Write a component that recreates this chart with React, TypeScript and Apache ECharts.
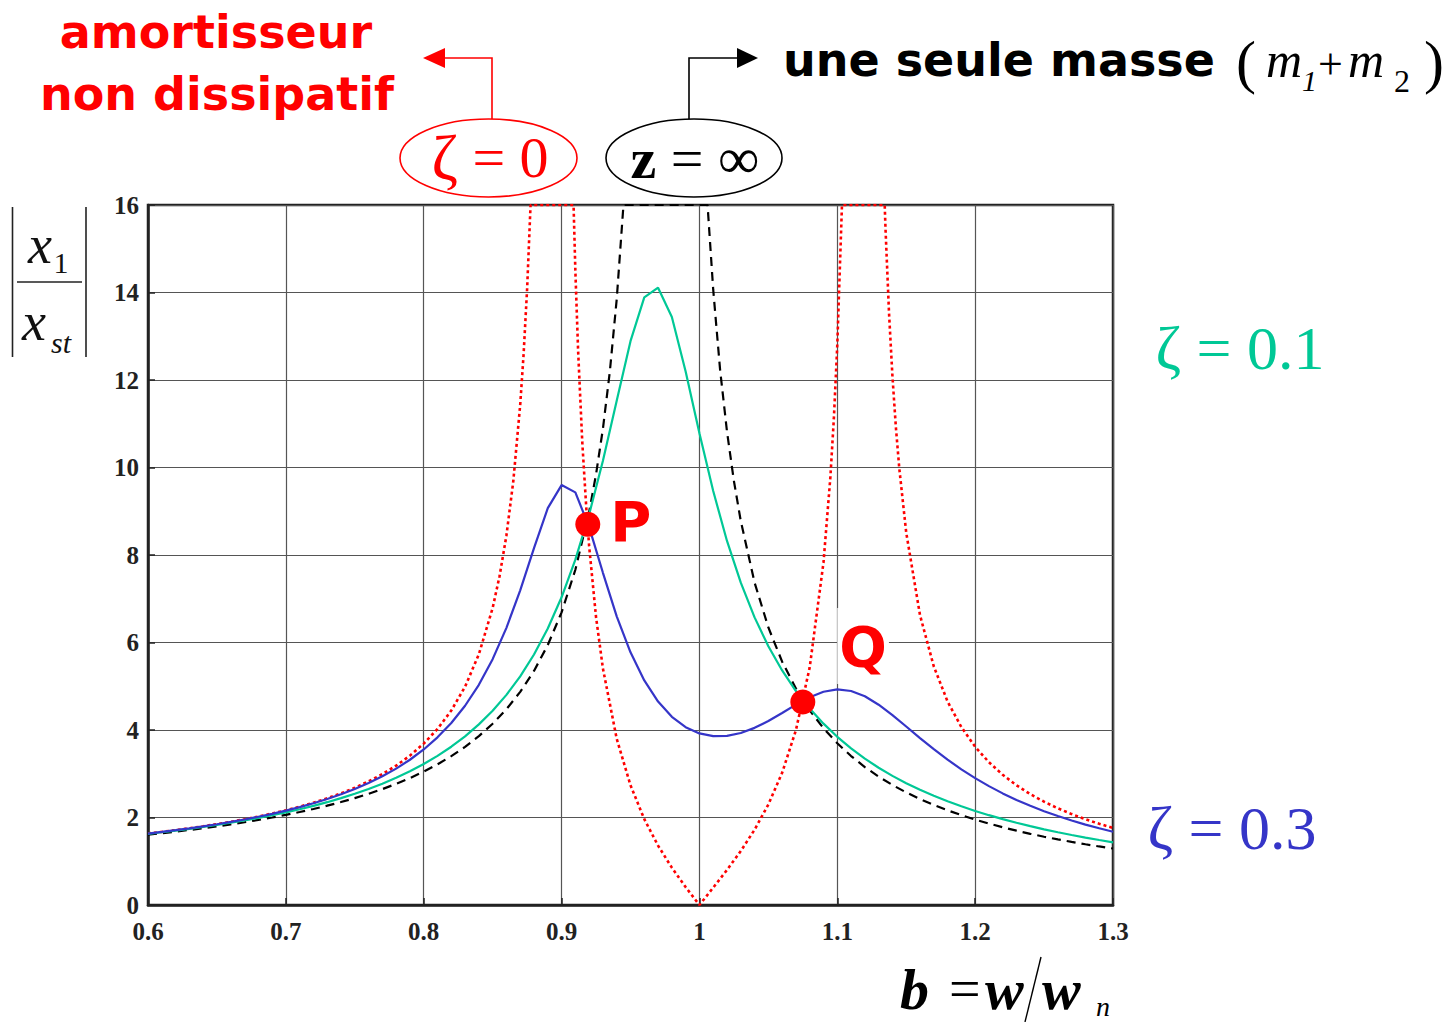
import React, { useEffect, useRef } from "react";
import * as echarts from "echarts";

// ---- data ----
// frequency ratio grid used by the damped curves
const betaGrid = [
  0.6, 0.61, 0.62, 0.63, 0.64, 0.65, 0.66, 0.67, 0.68, 0.69,
  0.7, 0.71, 0.72, 0.73, 0.74, 0.75, 0.76, 0.77, 0.78, 0.79,
  0.8, 0.81, 0.82, 0.83, 0.84, 0.85, 0.86, 0.87, 0.88, 0.89,
  0.9, 0.91, 0.92, 0.93, 0.94, 0.95, 0.96, 0.97, 0.98, 0.99,
  1.0, 1.01, 1.02, 1.03, 1.04, 1.05, 1.06, 1.07, 1.08, 1.09,
  1.1, 1.11, 1.12, 1.13, 1.14, 1.15, 1.16, 1.17, 1.18, 1.19,
  1.2, 1.21, 1.22, 1.23, 1.24, 1.25, 1.26, 1.27, 1.28, 1.29, 1.3,
];

// green curve (labelled ζ = 0.1 in the picture)
const ampGreen = [
  1.627, 1.663, 1.701, 1.741, 1.785, 1.831, 1.88, 1.933, 1.99, 2.051,
  2.117, 2.189, 2.266, 2.35, 2.442, 2.542, 2.652, 2.773, 2.907, 3.056,
  3.222, 3.408, 3.618, 3.856, 4.129, 4.441, 4.803, 5.226, 5.726, 6.321,
  7.034, 7.894, 8.929, 10.152, 11.527, 12.888, 13.889, 14.11, 13.442, 12.193,
  10.781, 9.461, 8.321, 7.367, 6.574, 5.914, 5.361, 4.891, 4.491, 4.145,
  3.844, 3.579, 3.346, 3.138, 2.952, 2.785, 2.634, 2.496, 2.371, 2.256,
  2.15, 2.053, 1.963, 1.88, 1.803, 1.73, 1.663, 1.6, 1.541, 1.486, 1.433,
];

// blue curve (labelled ζ = 0.3 in the picture)
const ampBlue = [
  1.633, 1.67, 1.71, 1.752, 1.798, 1.846, 1.899, 1.955, 2.017, 2.084,
  2.157, 2.237, 2.325, 2.422, 2.53, 2.651, 2.787, 2.941, 3.117, 3.32,
  3.555, 3.832, 4.16, 4.554, 5.033, 5.619, 6.335, 7.193, 8.158, 9.07,
  9.598, 9.432, 8.638, 7.593, 6.599, 5.775, 5.132, 4.65, 4.302, 4.065,
  3.922, 3.859, 3.866, 3.932, 4.049, 4.206, 4.389, 4.579, 4.75, 4.875,
  4.927, 4.891, 4.77, 4.578, 4.34, 4.08, 3.816, 3.561, 3.322, 3.101,
  2.899, 2.717, 2.551, 2.402, 2.267, 2.144, 2.033, 1.931, 1.838, 1.753, 1.675,
];

// black dashed curve, z = ∞ (single mass m1+m2), clipped at the top of the axes
const betaRigid = [
  0.6, 0.61, 0.62, 0.63, 0.64, 0.65, 0.66, 0.67, 0.68, 0.69,
  0.7, 0.71, 0.72, 0.73, 0.74, 0.75, 0.76, 0.77, 0.78, 0.79,
  0.8, 0.81, 0.82, 0.83, 0.84, 0.85, 0.86, 0.87, 0.88, 0.89,
  0.9, 0.91, 0.92, 0.925, 0.93, 0.935, 0.94, 0.9449, 0.95, 0.96,
  0.97, 0.98, 0.99, 1.0, 1.0059, 1.01, 1.015, 1.02, 1.025, 1.03,
  1.04, 1.05, 1.06, 1.07, 1.08, 1.09, 1.1, 1.11, 1.12, 1.13,
  1.14, 1.15, 1.16, 1.17, 1.18, 1.19, 1.2, 1.21, 1.22, 1.23,
  1.24, 1.25, 1.26, 1.27, 1.28, 1.29, 1.3,
];
const ampRigid = [
  1.608, 1.641, 1.677, 1.715, 1.755, 1.797, 1.843, 1.892, 1.944, 2.0,
  2.06, 2.125, 2.195, 2.27, 2.353, 2.443, 2.541, 2.649, 2.769, 2.901,
  3.049, 3.215, 3.402, 3.615, 3.859, 4.143, 4.476, 4.872, 5.351, 5.942,
  6.689, 7.663, 8.986, 9.843, 10.887, 12.19, 13.846, 16, 16, 16,
  16, 16, 16, 16, 16, 14.064, 12.23, 10.82, 9.694, 8.776,
  7.37, 6.344, 5.562, 4.947, 4.45, 4.04, 3.697, 3.405, 3.153, 2.935,
  2.743, 2.573, 2.422, 2.287, 2.164, 2.054, 1.953, 1.861, 1.777, 1.699,
  1.627, 1.561, 1.499, 1.442, 1.388, 1.338, 1.291,
];

// red dotted curve, ζ = 0 (undamped absorber), clipped at the top of the axes
const betaUndamped = [
  0.6, 0.61, 0.62, 0.63, 0.64, 0.65, 0.66, 0.67, 0.68, 0.69,
  0.7, 0.71, 0.72, 0.73, 0.74, 0.75, 0.76, 0.77, 0.78, 0.79,
  0.8, 0.81, 0.82, 0.83, 0.84, 0.85, 0.855, 0.86, 0.865, 0.87,
  0.8725, 0.875, 0.8775, 0.88, 0.89, 0.9, 0.9087, 0.91, 0.912, 0.915,
  0.918, 0.92, 0.925, 0.93, 0.94, 0.95, 0.96, 0.97, 0.98, 0.99,
  1.0, 1.01, 1.02, 1.03, 1.04, 1.05, 1.06, 1.07, 1.08, 1.09,
  1.095, 1.0975, 1.1, 1.1034, 1.11, 1.12, 1.13, 1.1344, 1.135, 1.1375,
  1.14, 1.1425, 1.145, 1.15, 1.16, 1.17, 1.18, 1.19, 1.2, 1.21,
  1.22, 1.23, 1.24, 1.25, 1.26, 1.27, 1.28, 1.29, 1.3,
];
const ampUndamped = [
  1.634, 1.672, 1.711, 1.754, 1.8, 1.849, 1.902, 1.959, 2.022, 2.09,
  2.165, 2.247, 2.338, 2.439, 2.552, 2.679, 2.825, 2.991, 3.186, 3.414,
  3.689, 4.024, 4.445, 4.991, 5.729, 6.788, 7.514, 8.447, 9.691, 11.438,
  12.61, 14.08, 16, 16, 16, 16, 16, 14.5, 12.67, 10.59,
  9.039, 8.202, 6.581, 5.405, 3.8, 2.737, 1.963, 1.357, 0.853, 0.409,
  0, 0.397, 0.802, 1.234, 1.721, 2.297, 3.022, 3.997, 5.432, 7.83,
  9.785, 11.11, 12.8, 16, 16, 16, 16, 16, 15.44, 13.55,
  12.09, 10.92, 9.973, 8.513, 6.626, 5.454, 4.651, 4.066, 3.618, 3.264,
  2.976, 2.737, 2.534, 2.361, 2.21, 2.078, 1.96, 1.856, 1.762,
];

// fixed points P and Q
const fixedPointNames = ["P", "Q"];
const fixedPointBeta = [0.919, 1.075];
const fixedPointAmp = [8.7, 4.64];

// axis ticks
const xTickMin = 0.6;
const xTickMax = 1.3;
const xTickStep = 0.1;
const yTickMin = 0;
const yTickMax = 16;
const yTickStep = 2;

const RED = "#ff0000";
const GREEN = "#00c896";
const BLUE = "#3535c8";

const zip = (xs: number[], ys: number[]) => xs.map((x, i) => [x, ys[i]]);

export default function App() {
  const ref = useRef<HTMLDivElement>(null);

  useEffect(() => {
    if (!ref.current) return;
    const chart = echarts.init(ref.current, undefined, { renderer: "svg" });

    const serif = '"Liberation Serif", "Times New Roman", serif';
    const sans = '"DejaVu Sans", Verdana, sans-serif';

    const option: any = {
      animation: false,
      backgroundColor: "#ffffff",
      grid: {
        left: 148,
        top: 205,
        width: 965,
        height: 700,
        show: true,
        borderColor: "#222",
        borderWidth: 2.5,
        backgroundColor: "transparent",
      },
      xAxis: {
        type: "value",
        min: xTickMin,
        max: xTickMax,
        interval: xTickStep,
        axisLine: { show: true, onZero: false, lineStyle: { color: "#222", width: 2.5 } },
        axisTick: { show: true, inside: true, length: 7, lineStyle: { color: "#222", width: 1.5 } },
        splitLine: { show: true, lineStyle: { color: "#555", width: 1.2 } },
        axisLabel: {
          margin: 14,
          color: "#222",
          fontFamily: serif,
          fontWeight: "bold",
          fontSize: 25,
          formatter: (v: number) => {
            const r = Math.round(v * 10) / 10;
            return r === 1 ? "1" : r.toFixed(1);
          },
        },
      },
      yAxis: {
        type: "value",
        min: yTickMin,
        max: yTickMax,
        interval: yTickStep,
        axisLine: { show: true, onZero: false, lineStyle: { color: "#222", width: 2.5 } },
        axisTick: { show: true, inside: true, length: 7, lineStyle: { color: "#222", width: 1.5 } },
        splitLine: { show: true, lineStyle: { color: "#555", width: 1.2 } },
        axisLabel: {
          margin: 9,
          color: "#222",
          fontFamily: serif,
          fontWeight: "bold",
          fontSize: 25,
        },
      },
      series: [
        {
          name: "ζ = 0",
          type: "line",
          data: zip(betaUndamped, ampUndamped),
          showSymbol: false,
          lineStyle: { color: RED, width: 2.6, type: [3, 3] },
          z: 2,
        },
        {
          name: "z = ∞",
          type: "line",
          data: zip(betaRigid, ampRigid),
          showSymbol: false,
          lineStyle: { color: "#000", width: 2.2, type: [9, 6] },
          z: 3,
        },
        {
          name: "ζ = 0.1",
          type: "line",
          data: zip(betaGrid, ampGreen),
          showSymbol: false,
          lineStyle: { color: GREEN, width: 2.2 },
          z: 4,
        },
        {
          name: "ζ = 0.3",
          type: "line",
          data: zip(betaGrid, ampBlue),
          showSymbol: false,
          lineStyle: { color: BLUE, width: 2.2 },
          z: 5,
        },
        {
          name: "points fixes",
          type: "scatter",
          symbol: "circle",
          symbolSize: 25,
          itemStyle: { color: RED, opacity: 1 },
          z: 10,
          data: fixedPointNames.map((n, i) => ({
            value: [fixedPointBeta[i], fixedPointAmp[i]],
            name: n,
            label:
              n === "P"
                ? {
                    show: true,
                    position: "right",
                    distance: 10,
                    offset: [0, -3],
                    formatter: "P",
                    color: RED,
                    fontFamily: sans,
                    fontWeight: "bold",
                    fontSize: 56,
                  }
                : {
                    show: true,
                    position: "right",
                    distance: 0,
                    offset: [22, -56],
                    formatter: "Q",
                    color: RED,
                    fontFamily: sans,
                    fontWeight: "bold",
                    fontSize: 56,
                    lineHeight: 60,
                    backgroundColor: "#ffffff",
                    padding: [8, 2, 8, 2],
                  },
          })),
        },
      ],
      graphic: [
        // top-left annotation
        {
          type: "text",
          x: 216,
          y: 32,
          style: { text: "amortisseur", fill: RED, fontFamily: sans, fontWeight: "bold", fontSize: 46, align: "center", verticalAlign: "middle" },
        },
        {
          type: "text",
          x: 217,
          y: 94,
          style: { text: "non dissipatif", fill: RED, fontFamily: sans, fontWeight: "bold", fontSize: 46, align: "center", verticalAlign: "middle" },
        },
        // red ellipse and arrow
        {
          type: "ellipse",
          shape: { cx: 488.5, cy: 158, rx: 88.5, ry: 39 },
          style: { fill: "none", stroke: RED, lineWidth: 1.6 },
        },
        {
          type: "polyline",
          shape: { points: [[492, 119], [492, 58], [442, 58]] },
          style: { fill: "none", stroke: RED, lineWidth: 1.6 },
        },
        {
          type: "polygon",
          shape: { points: [[423, 58], [445, 48], [445, 68]] },
          style: { fill: RED, stroke: "none" },
        },
        {
          type: "text",
          x: 490,
          y: 157,
          style: {
            text: "{g|ζ} = 0",
            fill: RED,
            fontFamily: serif,
            fontSize: 58,
            align: "center",
            verticalAlign: "middle",
            rich: { g: { fontFamily: serif, fontSize: 64, fill: RED } },
          },
        },
        // black ellipse and arrow
        {
          type: "ellipse",
          shape: { cx: 694, cy: 158, rx: 88, ry: 39 },
          style: { fill: "none", stroke: "#000", lineWidth: 1.6 },
        },
        {
          type: "polyline",
          shape: { points: [[689, 119], [689, 58], [740, 58]] },
          style: { fill: "none", stroke: "#000", lineWidth: 1.6 },
        },
        {
          type: "polygon",
          shape: { points: [[758, 58], [737, 48], [737, 68]] },
          style: { fill: "#000", stroke: "none" },
        },
        {
          type: "text",
          x: 695,
          y: 158,
          style: {
            text: "{b|z} = ∞",
            fill: "#000",
            fontFamily: serif,
            fontSize: 58,
            align: "center",
            verticalAlign: "middle",
            rich: { b: { fontFamily: serif, fontWeight: "bold", fontSize: 58, fill: "#000" } },
          },
        },
        // top-right annotation
        {
          type: "text",
          x: 783,
          y: 60,
          style: { text: "une seule masse", fill: "#000", fontFamily: sans, fontWeight: "bold", fontSize: 46, align: "left", verticalAlign: "middle" },
        },
        { type: "text", x: 1236, y: 62, style: { text: "(", fill: "#000", fontFamily: serif, fontSize: 60, align: "left", verticalAlign: "middle" } },
        { type: "text", x: 1266, y: 60, style: { text: "m", fill: "#000", fontFamily: serif, fontStyle: "italic", fontSize: 50, align: "left", verticalAlign: "middle" } },
        { type: "text", x: 1302, y: 80, style: { text: "1", fill: "#000", fontFamily: serif, fontStyle: "italic", fontSize: 30, align: "left", verticalAlign: "middle" } },
        { type: "text", x: 1318, y: 64, style: { text: "+", fill: "#000", fontFamily: serif, fontSize: 44, align: "left", verticalAlign: "middle" } },
        { type: "text", x: 1348, y: 60, style: { text: "m", fill: "#000", fontFamily: serif, fontStyle: "italic", fontSize: 50, align: "left", verticalAlign: "middle" } },
        { type: "text", x: 1394, y: 81, style: { text: "2", fill: "#000", fontFamily: serif, fontSize: 32, align: "left", verticalAlign: "middle" } },
        { type: "text", x: 1424, y: 62, style: { text: ")", fill: "#000", fontFamily: serif, fontSize: 60, align: "left", verticalAlign: "middle" } },
        // y-axis label |x1 / xst|
        { type: "line", shape: { x1: 12.5, y1: 207, x2: 12.5, y2: 357 }, style: { stroke: "#222", lineWidth: 1.6 } },
        { type: "line", shape: { x1: 86, y1: 207, x2: 86, y2: 357 }, style: { stroke: "#222", lineWidth: 1.6 } },
        { type: "line", shape: { x1: 17, y1: 282, x2: 82, y2: 282 }, style: { stroke: "#222", lineWidth: 1.6 } },
        { type: "text", x: 40, y: 245, style: { text: "x", fill: "#111", fontFamily: serif, fontStyle: "italic", fontSize: 54, align: "center", verticalAlign: "middle" } },
        { type: "text", x: 61, y: 262, style: { text: "1", fill: "#111", fontFamily: serif, fontSize: 30, align: "center", verticalAlign: "middle" } },
        { type: "text", x: 34, y: 322, style: { text: "x", fill: "#111", fontFamily: serif, fontStyle: "italic", fontSize: 54, align: "center", verticalAlign: "middle" } },
        { type: "text", x: 61, y: 342, style: { text: "st", fill: "#111", fontFamily: serif, fontStyle: "italic", fontSize: 30, align: "center", verticalAlign: "middle" } },
        // curve labels on the right
        { type: "text", x: 1240, y: 348, style: { text: "ζ = 0.1", fill: GREEN, fontFamily: serif, fontSize: 62, align: "center", verticalAlign: "middle" } },
        { type: "text", x: 1232, y: 828, style: { text: "ζ = 0.3", fill: BLUE, fontFamily: serif, fontSize: 62, align: "center", verticalAlign: "middle" } },
        // x-axis label b = w/w_n
        { type: "text", x: 900, y: 989, style: { text: "b", fill: "#000", fontFamily: serif, fontStyle: "italic", fontWeight: "bold", fontSize: 58, align: "left", verticalAlign: "middle" } },
        { type: "text", x: 949, y: 989, style: { text: "=", fill: "#000", fontFamily: serif, fontSize: 56, align: "left", verticalAlign: "middle" } },
        { type: "text", x: 985, y: 989, style: { text: "w", fill: "#000", fontFamily: serif, fontStyle: "italic", fontWeight: "bold", fontSize: 58, align: "left", verticalAlign: "middle" } },
        { type: "line", shape: { x1: 1041, y1: 957, x2: 1025, y2: 1022 }, style: { stroke: "#000", lineWidth: 1.4 } },
        { type: "text", x: 1042, y: 989, style: { text: "w", fill: "#000", fontFamily: serif, fontStyle: "italic", fontWeight: "bold", fontSize: 58, align: "left", verticalAlign: "middle" } },
        { type: "text", x: 1096, y: 1006, style: { text: "n", fill: "#000", fontFamily: serif, fontStyle: "italic", fontSize: 28, align: "left", verticalAlign: "middle" } },
      ],
    };

    chart.setOption(option);
    return () => chart.dispose();
  }, []);

  return (
    <div
      ref={ref}
      style={{ position: "fixed", left: 0, top: 0, width: 1449, height: 1022, background: "#fff" }}
    />
  );
}
